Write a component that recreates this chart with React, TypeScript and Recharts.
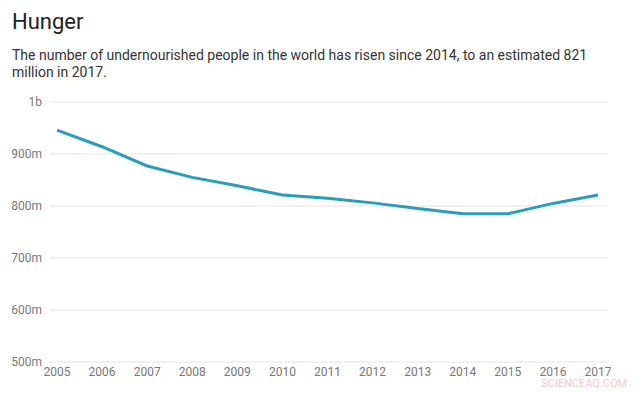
import { LineChart, Line, XAxis, YAxis, CartesianGrid } from "recharts";

const YEARS = [2005, 2006, 2007, 2008, 2009, 2010, 2011, 2012, 2013, 2014, 2015, 2016, 2017];
// undernourished people, millions
const UNDERNOURISHED = [946, 914, 877, 855, 839, 821, 815, 806, 795, 785, 785, 805, 821];
const Y_TICKS = [500, 600, 700, 800, 900, 1000];

const data = YEARS.map((year, i) => ({ year, value: UNDERNOURISHED[i] }));

const fmtY = (v: number) => (v >= 1000 ? `${v / 1000}b` : `${v}m`);

export default function App() {
  return (
    <div
      style={{
        position: "absolute",
        top: 0,
        left: 0,
        width: 640,
        height: 393,
        background: "#fff",
        fontFamily: "Roboto, sans-serif",
        overflow: "hidden",
      }}
    >
      <div style={{ position: "absolute", left: 12, top: 9, fontSize: 22, color: "#222" }}>Hunger</div>
      <div
        style={{
          position: "absolute",
          left: 12,
          top: 47,
          width: 600,
          fontSize: 14,
          lineHeight: "17px",
          color: "#333",
        }}
      >
        The number of undernourished people in the world has risen since 2014, to an estimated 821 million in 2017.
      </div>

      <div style={{ position: "absolute", left: 0, top: 0 }}>
        <LineChart width={640} height={393} data={data} margin={{ top: 102, right: 32, bottom: 11, left: 0 }}>
          <CartesianGrid stroke="#e3e3e3" vertical={false} />
          <XAxis
            dataKey="year"
            type="number"
            domain={[2005, 2017]}
            ticks={YEARS}
            interval={0}
            padding={{ left: 7, right: 10 }}
            axisLine={false}
            tickLine={false}
            tickSize={0}
            tickMargin={5}
            height={20}
            tick={{ fill: "#777", fontSize: 12 }}
          />
          <YAxis
            domain={[500, 1000]}
            ticks={Y_TICKS}
            tickFormatter={fmtY}
            axisLine={false}
            tickLine={false}
            width={50}
            tick={{ fill: "#777", fontSize: 12 }}
          />
          <Line
            type="linear"
            dataKey="value"
            stroke="#2a9dba"
            strokeWidth={3}
            dot={false}
            isAnimationActive={false}
          />
        </LineChart>
      </div>

      <div
        style={{
          position: "absolute",
          left: 541,
          top: 377,
          fontSize: 11,
          color: "#f5c9cf",
        }}
      >
        SCIENCEAQ.COM
      </div>
    </div>
  );
}
